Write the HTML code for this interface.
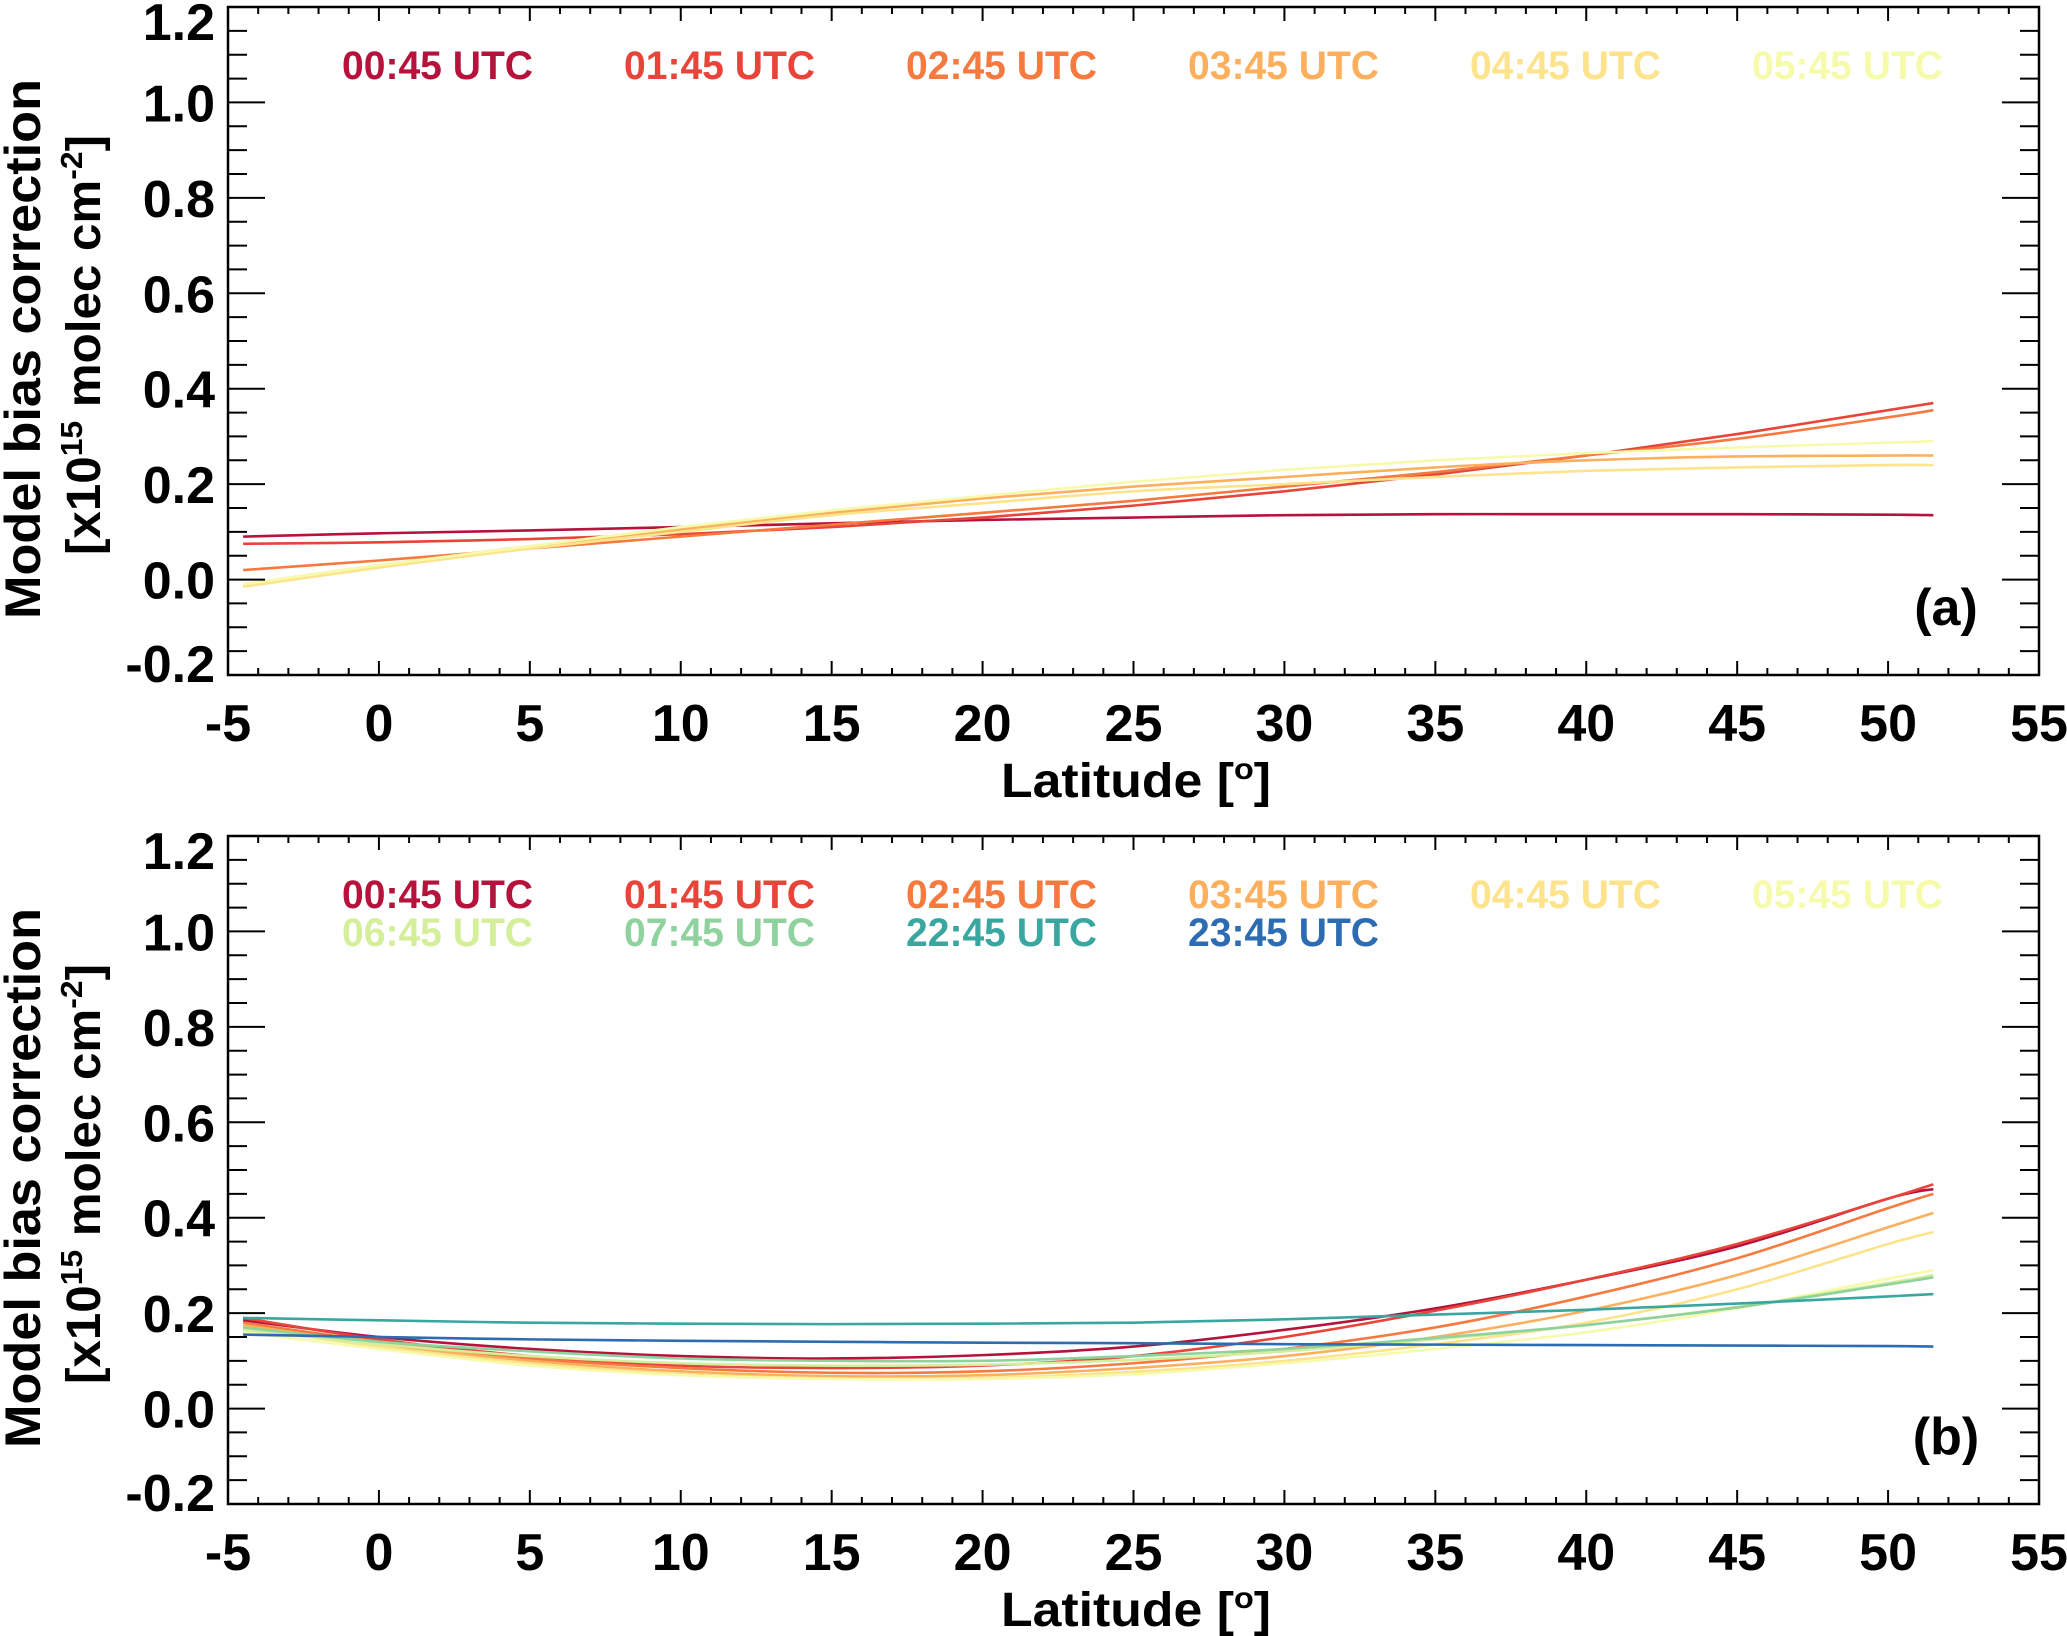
<!DOCTYPE html>
<html><head><meta charset="utf-8"><style>
html,body{margin:0;padding:0;background:#fff}
svg{display:block}
text{font-family:"Liberation Sans",Arial,sans-serif;font-weight:bold}
</style></head><body>
<svg id="chart" width="2067" height="1636" viewBox="0 0 2067 1636" xmlns="http://www.w3.org/2000/svg"></svg>
<script>
const lats = [-4.5,0,5,10,15,20,25,30,35,40,45,50,51.5];
const labelsA = ["00:45 UTC","01:45 UTC","02:45 UTC","03:45 UTC","04:45 UTC","05:45 UTC"];
const colorsA = ["#b5123c","#e8453a","#f6793f","#fcb05e","#fde38c","#f6fbac"];
const a0045 = [.09,.097,.103,.11,.118,.125,.13,.135,.137,.137,.137,.136,.135];
const a0145 = [.075,.078,.085,.095,.11,.13,.155,.185,.22,.26,.305,.355,.37];
const a0245 = [.02,.04,.065,.09,.115,.14,.165,.195,.225,.26,.295,.34,.355];
const a0345 = [-.01,.03,.07,.105,.14,.17,.195,.215,.235,.25,.258,.26,.26];
const a0445 = [-.015,.025,.065,.1,.135,.16,.185,.2,.215,.228,.235,.24,.24];
const a0545 = [-.01,.03,.07,.11,.145,.175,.205,.23,.25,.265,.277,.287,.29];
const labelsB = ["00:45 UTC","01:45 UTC","02:45 UTC","03:45 UTC","04:45 UTC","05:45 UTC","06:45 UTC","07:45 UTC","22:45 UTC","23:45 UTC"];
const colorsB = ["#b5123c","#e8453a","#f6793f","#fcb05e","#fde38c","#f6fbac","#d5ee9a","#8fd29e","#3aa6a0","#2d6cb3"];
const b0045 = [.185,.15,.125,.11,.105,.112,.13,.165,.21,.27,.34,.44,.46];
const b0145 = [.19,.145,.11,.09,.085,.09,.11,.15,.205,.27,.345,.44,.47];
const b0245 = [.18,.14,.105,.085,.075,.078,.095,.125,.17,.235,.315,.42,.45];
const b0345 = [.175,.135,.1,.078,.068,.07,.085,.11,.15,.205,.28,.38,.41];
const b0445 = [.17,.13,.095,.073,.063,.064,.077,.1,.135,.18,.25,.345,.37];
const b0545 = [.16,.125,.09,.07,.062,.062,.072,.095,.125,.16,.21,.272,.29];
const b0645 = [.165,.135,.11,.095,.09,.092,.102,.12,.145,.175,.213,.263,.28];
const b0745 = [.17,.14,.12,.105,.1,.1,.11,.125,.148,.175,.212,.26,.275];
const b2245 = [.19,.185,.18,.178,.177,.178,.18,.187,.197,.207,.22,.235,.24];
const b2345 = [.155,.15,.145,.142,.14,.138,.137,.135,.134,.133,.132,.131,.13];
const seriesA = [a0045,a0145,a0245,a0345,a0445,a0545];
const seriesB = [b0045,b0145,b0245,b0345,b0445,b0545,b0645,b0745,b2245,b2345];
const xTicks = ["-5","0","5","10","15","20","25","30","35","40","45","50","55"];
const yTicks = ["-0.2","0.0","0.2","0.4","0.6","0.8","1.0","1.2"];

const NS="http://www.w3.org/2000/svg";
const svg=document.getElementById('chart');
function mk(tag,attrs,parent){const e=document.createElementNS(NS,tag);for(const k in attrs)e.setAttribute(k,attrs[k]);(parent||svg).appendChild(e);return e;}

function panel(top,series,labels,colors,tag){
  const L=228,R=2039,T=top,B=top+668;
  const xs=v=>L+(v+5)/60*(R-L);
  const ys=v=>B-(v+0.2)/1.4*(B-T);
  const g=mk('g',{});
  
  
  series.forEach((s,i)=>{
    const pts=lats.map((x,j)=>[xs(x),ys(s[j])]);
    let d='M'+pts[0][0]+','+pts[0][1];
    for(let j=0;j<pts.length-1;j++){
      const p0=pts[Math.max(0,j-1)],p1=pts[j],p2=pts[j+1],p3=pts[Math.min(pts.length-1,j+2)];
      const c1x=p1[0]+(p2[0]-p0[0])/6,c1y=p1[1]+(p2[1]-p0[1])/6;
      const c2x=p2[0]-(p3[0]-p1[0])/6,c2y=p2[1]-(p3[1]-p1[1])/6;
      d+=' C'+c1x+','+c1y+' '+c2x+','+c2y+' '+p2[0]+','+p2[1];
    }
    const p=mk('path',{d:d,fill:'none',stroke:colors[i],'stroke-width':2.6},g);
    
    
  });
  const f=mk('rect',{x:L,y:T,width:R-L,height:B-T,fill:'none',stroke:'#000','stroke-width':2.5},g);
  
  
  for(let v=-5;v<=55;v++){
    const major=v%5===0, len=major?14:7, x=xs(v);
    mk('line',{x1:x,x2:x,y1:B,y2:B-len,stroke:'#000','stroke-width':2},g);
    mk('line',{x1:x,x2:x,y1:T,y2:T+len,stroke:'#000','stroke-width':2},g);
  }
  xTicks.forEach((t,i)=>{
    const v=-5+5*i;
    const tx=mk('text',{x:xs(v),y:B+66,'font-size':52,'text-anchor':'middle'},g);
    tx.textContent=t;
    
    
  });
  for(let k=0;k<=28;k++){
    const v=-0.2+k*0.05, major=k%4===0, len=major?37:19, y=ys(v);
    mk('line',{x1:L,x2:L+len,y1:y,y2:y,stroke:'#000','stroke-width':2},g);
    mk('line',{x1:R,x2:R-len,y1:y,y2:y,stroke:'#000','stroke-width':2},g);
  }
  yTicks.forEach((t,i)=>{
    let y=ys(-0.2+0.2*i)+19;
    if(i===0) y-=12; if(i===yTicks.length-1) y+=14;
    const tx=mk('text',{x:215,y:y,'font-size':52,'text-anchor':'end'},g);
    tx.textContent=t;
    
    
  });
  const xt=mk('text',{x:1136,y:B+122,'font-size':48,'text-anchor':'middle',textLength:270,lengthAdjust:'spacingAndGlyphs'},g);
  xt.innerHTML='Latitude [<tspan font-size="30" dy="-18">o</tspan><tspan dy="18">]</tspan>';
  
  
  const cy=(T+B)/2;
  const yt=mk('text',{x:0,y:0,'font-size':50,'text-anchor':'middle',textLength:540,lengthAdjust:'spacingAndGlyphs',transform:'translate(40,'+(cy+8)+') rotate(-90)'},g);
  yt.textContent='Model bias correction';
  
  
  const yt2=mk('text',{x:0,y:0,'font-size':48,'text-anchor':'middle',textLength:420,lengthAdjust:'spacingAndGlyphs',transform:'translate(100,'+(cy+4)+') rotate(-90)'},g);
  yt2.innerHTML='[x10<tspan font-size="31" dy="-18">15</tspan><tspan dy="18"> molec cm</tspan><tspan font-size="31" dy="-18">-2</tspan><tspan dy="18">]</tspan>';
  
  
  labels.forEach((lab,i)=>{
    const col=i%6,row=Math.floor(i/6);
    const tx=mk('text',{x:342+col*282,y:T+72+row*38,'font-size':40,fill:colors[i],textLength:191,lengthAdjust:'spacingAndGlyphs'},g);
    tx.textContent=lab;
    
    
  });
  const pl=mk('text',{x:1946,y:B-50,'font-size':52,'text-anchor':'middle'},g);
  pl.textContent='('+tag+')';
  
  
}
panel(7,seriesA,labelsA,colorsA,'a');
panel(836,seriesB,labelsB,colorsB,'b');
</script>
</body></html>
